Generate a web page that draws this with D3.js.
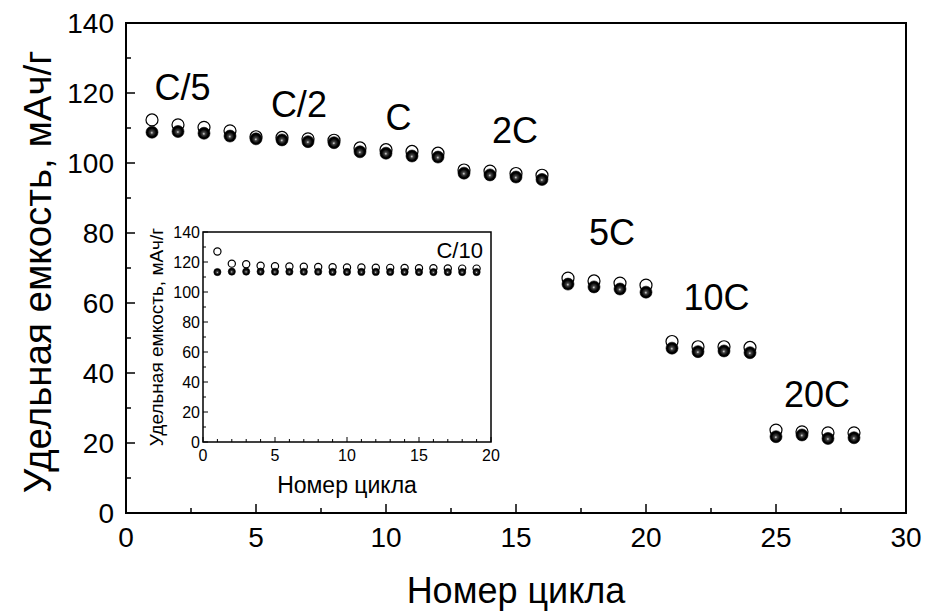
<!DOCTYPE html>
<html>
<head>
<meta charset="utf-8">
<script src="https://cdn.jsdelivr.net/npm/d3@7"></script>
<style>
  body { margin: 0; background: #fff; }
  svg { font-family: "Liberation Sans", Arial, sans-serif; }
</style>
</head>
<body>
<svg id="chart" width="927" height="614"></svg>
<script>
// main plot: cycle number vs capacity
var cycles = [1, 2, 3, 4, 5, 6, 7, 8, 9, 10, 11, 12, 13, 14, 15, 16, 17, 18, 19, 20, 21, 22, 23, 24, 25, 26, 27, 28];
var charge = [112.3, 110.9, 110.2, 109.2, 107.5, 107.3, 106.9, 106.5, 104.3, 103.8, 103.3, 102.8,
              98.0, 97.7, 97.0, 96.5, 67.1, 66.3, 65.7, 65.1, 49.0, 47.5, 47.5, 47.3, 23.7, 23.2, 22.9, 22.9];
var discharge = [108.8, 109.0, 108.5, 107.7, 106.9, 106.6, 106.1, 105.8, 103.2, 102.8, 102.0, 101.7,
                 97.1, 96.6, 96.0, 95.3, 65.4, 64.6, 64.0, 63.1, 47.1, 46.1, 46.3, 45.8, 21.8, 22.3, 21.3, 21.5];
var rateLabels = ["C/5", "C/2", "C", "2C", "5C", "10C", "20C"];
var rateLabelX = [2.17, 6.65, 10.48, 14.96, 18.69, 22.71, 26.58];
var rateLabelY = [118, 113.1, 109.4, 105.7, 76.6, 58, 30.3];
var xTicks = [0, 5, 10, 15, 20, 25, 30];
var yTicks = [0, 20, 40, 60, 80, 100, 120, 140];

// inset: first cycles at C/10
var insetCycles = [1, 2, 3, 4, 5, 6, 7, 8, 9, 10, 11, 12, 13, 14, 15, 16, 17, 18, 19];
var insetCharge = [127.0, 118.9, 118.5, 117.5, 117.2, 117.0, 116.8, 116.7, 116.5, 116.4,
                   116.3, 116.2, 116.1, 116.0, 115.9, 115.8, 115.7, 115.6, 115.6];
var insetDischarge = [113.3, 113.6, 113.6, 113.6, 113.5, 113.5, 113.5, 113.5, 113.4, 113.4,
                      113.4, 113.4, 113.4, 113.4, 113.3, 113.3, 113.3, 113.3, 113.3];
var insetXTicks = [0, 5, 10, 15, 20];
var insetYTicks = [0, 20, 40, 60, 80, 100, 120, 140];

var svg = d3.select("#chart");

// sphere look for discharge points
var grad = svg.append("defs").append("radialGradient")
    .attr("id", "sphere")
    .attr("cx", "50%").attr("cy", "50%").attr("r", "50%")
    .attr("fx", "48%").attr("fy", "55%");
grad.append("stop").attr("offset", "0%").attr("stop-color", "#e0e0e0");
grad.append("stop").attr("offset", "25%").attr("stop-color", "#444");
grad.append("stop").attr("offset", "70%").attr("stop-color", "#000");
grad.append("stop").attr("offset", "100%").attr("stop-color", "#000");

/*
 * draws a framed axis box with inward ticks
 */
function renderFrame(g, x, y, opt) {
    var x0 = x.range()[0], x1 = x.range()[1];
    var y0 = y.range()[0], y1 = y.range()[1];

    // minor ticks
    g.selectAll(".xminor").data(opt.xMinor).enter().append("line")
        .attr("x1", function(d) { return x(d); }).attr("x2", function(d) { return x(d); })
        .attr("y1", y0).attr("y2", y0 - opt.minorLen)
        .attr("stroke", "#000").attr("stroke-width", opt.tickW);
    g.selectAll(".yminor").data(opt.yMinor).enter().append("line")
        .attr("y1", function(d) { return y(d); }).attr("y2", function(d) { return y(d); })
        .attr("x1", x0).attr("x2", x0 + opt.minorLen)
        .attr("stroke", "#000").attr("stroke-width", opt.tickW);

    // major ticks
    g.selectAll(".xmajor").data(opt.xTicks).enter().append("line")
        .attr("x1", function(d) { return x(d); }).attr("x2", function(d) { return x(d); })
        .attr("y1", y0).attr("y2", y0 - opt.majorLen)
        .attr("stroke", "#000").attr("stroke-width", opt.tickW);
    g.selectAll(".ymajor").data(opt.yTicks).enter().append("line")
        .attr("y1", function(d) { return y(d); }).attr("y2", function(d) { return y(d); })
        .attr("x1", x0).attr("x2", x0 + opt.majorLen)
        .attr("stroke", "#000").attr("stroke-width", opt.tickW);

    g.append("rect")
        .attr("x", x0).attr("y", y1)
        .attr("width", x1 - x0).attr("height", y0 - y1)
        .attr("fill", "none").attr("stroke", "#000").attr("stroke-width", opt.frameW);

    // tick labels
    g.selectAll(".xlab").data(opt.xTicks).enter().append("text")
        .attr("x", function(d) { return x(d); })
        .attr("y", y0 + opt.xLabOff)
        .attr("text-anchor", "middle")
        .attr("font-size", opt.tickFont)
        .text(function(d) { return d; });
    g.selectAll(".ylab").data(opt.yTicks).enter().append("text")
        .attr("x", x0 - opt.yLabOff)
        .attr("y", function(d) { return y(d); })
        .attr("dy", "0.36em")
        .attr("text-anchor", "end")
        .attr("font-size", opt.tickFont)
        .text(function(d) { return d; });
}

/*
 * open circles first, filled spheres on top
 */
function renderPoints(g, x, y, xs, open, filled, r) {
    g.selectAll(".open").data(xs).enter().append("circle")
        .attr("cx", function(d) { return x(d); })
        .attr("cy", function(d, i) { return y(open[i]); })
        .attr("r", r)
        .attr("fill", "#fff").attr("stroke", "#000").attr("stroke-width", 1.2);
    g.selectAll(".filled").data(xs).enter().append("circle")
        .attr("cx", function(d) { return x(d); })
        .attr("cy", function(d, i) { return y(filled[i]); })
        .attr("r", r)
        .attr("fill", "url(#sphere)").attr("stroke", "#000").attr("stroke-width", 0.6);
}

// ---- main plot
var x = d3.scaleLinear().domain([0, 30]).range([126, 906]);
var y = d3.scaleLinear().domain([0, 140]).range([513, 23]);
var main = svg.append("g");

renderFrame(main, x, y, {
    xTicks: xTicks, yTicks: yTicks,
    xMinor: [2.5, 7.5, 12.5, 17.5, 22.5, 27.5],
    yMinor: [10, 30, 50, 70, 90, 110, 130],
    majorLen: 9, minorLen: 5, tickW: 1.5, frameW: 2,
    tickFont: 28, xLabOff: 34, yLabOff: 12
});

main.append("text")
    .attr("x", (x(0) + x(30)) / 2).attr("y", 603)
    .attr("text-anchor", "middle").attr("font-size", 36)
    .text("Номер цикла");
main.append("text")
    .attr("transform", "translate(51,272) rotate(-90)")
    .attr("text-anchor", "middle").attr("font-size", 38.5)
    .text("Удельная емкость, мАч/г");

main.selectAll(".rate").data(rateLabels).enter().append("text")
    .attr("x", function(d, i) { return x(rateLabelX[i]); })
    .attr("y", function(d, i) { return y(rateLabelY[i]); })
    .attr("text-anchor", "middle").attr("font-size", 36)
    .text(function(d) { return d; });

renderPoints(main, x, y, cycles, charge, discharge, 6);

// ---- inset
var xi = d3.scaleLinear().domain([0, 20]).range([203, 491]);
var yi = d3.scaleLinear().domain([0, 140]).range([442, 232]);
var inset = svg.append("g");

inset.append("rect")
    .attr("x", 203).attr("y", 232).attr("width", 288).attr("height", 210)
    .attr("fill", "#fff");

renderFrame(inset, xi, yi, {
    xTicks: insetXTicks, yTicks: insetYTicks,
    xMinor: [1, 2, 3, 4, 6, 7, 8, 9, 11, 12, 13, 14, 16, 17, 18, 19],
    yMinor: [10, 30, 50, 70, 90, 110, 130],
    majorLen: 5, minorLen: 3, tickW: 1, frameW: 1.5,
    tickFont: 16, xLabOff: 19, yLabOff: 3
});

inset.append("text")
    .attr("x", (xi(0) + xi(20)) / 2).attr("y", 493)
    .attr("text-anchor", "middle").attr("font-size", 23)
    .text("Номер цикла");
inset.append("text")
    .attr("transform", "translate(163," + yi(70) + ") rotate(-90)")
    .attr("text-anchor", "middle").attr("font-size", 19)
    .text("Удельная емкость, мАч/г");
inset.append("text")
    .attr("x", xi(19.44)).attr("y", yi(122.7))
    .attr("text-anchor", "end").attr("font-size", 22)
    .text("C/10");

renderPoints(inset, xi, yi, insetCycles, insetCharge, insetDischarge, 3.6);
</script>
</body>
</html>
